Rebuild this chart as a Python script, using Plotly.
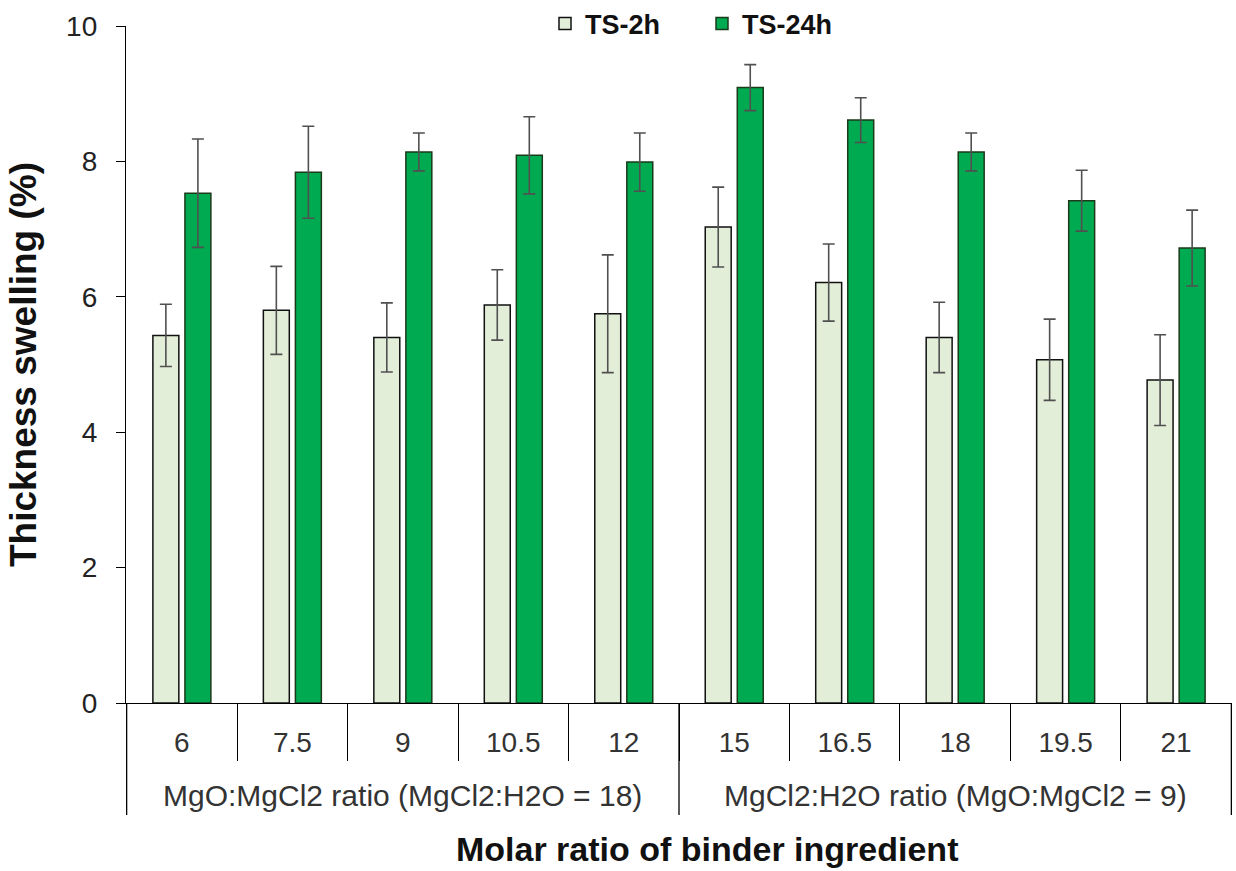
import plotly.graph_objects as go

group_labels = ["MgO:MgCl2 ratio (MgCl2:H2O = 18)", "MgCl2:H2O ratio (MgO:MgCl2 = 9)"]
group_sizes = [5, 5]
categories = ["6", "7.5", "9", "10.5", "12", "15", "16.5", "18", "19.5", "21"]
ts_2h = [5.43, 5.80, 5.40, 5.88, 5.75, 7.03, 6.21, 5.40, 5.07, 4.77]
ts_2h_err = [0.46, 0.65, 0.51, 0.52, 0.87, 0.59, 0.57, 0.52, 0.60, 0.67]
ts_24h = [7.53, 7.84, 8.14, 8.09, 7.99, 9.09, 8.61, 8.14, 7.42, 6.72]
ts_24h_err = [0.80, 0.68, 0.28, 0.57, 0.43, 0.34, 0.33, 0.28, 0.45, 0.56]

FONT = "Liberation Sans, Arial, sans-serif"
err_style = dict(type="data", color="#505050", thickness=1.6, width=6)

fig = go.Figure()
fig.add_trace(go.Bar(
    x=categories, y=ts_2h, name="TS-2h",
    marker=dict(color="#E3EED9", line=dict(color="#111111", width=1.5)),
    error_y=dict(array=ts_2h_err, **err_style),
))
fig.add_trace(go.Bar(
    x=categories, y=ts_24h, name="TS-24h",
    marker=dict(color="#00AA50", line=dict(color="#1A3A1A", width=1.5)),
    error_y=dict(array=ts_24h_err, **err_style),
))

# plot area pixel geometry (for paper-relative placements)
W, H, L, R, T, B = 1236, 871, 126, 4, 26, 168
ph = H - T - B
pw = W - L - R
def py(pix):
    return (H - B - pix) / ph
def px(pix):
    return (pix - L) / pw

# group dividers and group labels
start = 0
bounds = [-0.5]
for lab, n in zip(group_labels, group_sizes):
    mid = start + (n - 1) / 2
    fig.add_annotation(x=mid, xref="x", y=py(795), yref="paper", text=lab,
                       showarrow=False, yanchor="middle",
                       font=dict(size=30, family=FONT, color="#333333"))
    start += n
    bounds.append(start - 0.5)
for b in bounds:
    fig.add_shape(type="line", x0=b, x1=b, xref="x", y0=0, y1=py(815), yref="paper",
                  line=dict(color="black", width=1.3))

fig.add_annotation(x=px(707), xref="paper", y=py(849), yref="paper",
                   text="<b>Molar ratio of binder ingredient</b>", showarrow=False,
                   yanchor="middle", font=dict(size=34, family=FONT, color="#111111"))

fig.update_layout(
    width=W, height=H,
    margin=dict(l=L, r=R, t=T, b=B, autoexpand=False),
    paper_bgcolor="white", plot_bgcolor="white",
    barmode="group", bargap=0.42, bargroupgap=0.19,
    font=dict(family=FONT, color="#222222", size=20),
    showlegend=True,
    legend=dict(
        orientation="h", x=px(545), y=py(24), xanchor="left", yanchor="middle",
        font=dict(size=27, family=FONT, color="#111111", weight="bold"),
        bgcolor="rgba(0,0,0,0)", itemwidth=30, entrywidth=112, entrywidthmode="pixels",
    ),
    xaxis=dict(
        type="category",
        showline=True, linecolor="black", linewidth=1.3,
        ticks="outside", tickson="boundaries", ticklen=57, tickcolor="black", tickwidth=1.3,
        ticklabelstandoff=14,
        tickfont=dict(size=28, color="#333333"),
        showgrid=False,
    ),
    yaxis=dict(
        range=[0, 10], dtick=2,
        showline=True, linecolor="black", linewidth=1.3,
        ticks="outside", ticklen=9, tickcolor="black", tickwidth=1.3,
        ticklabelstandoff=13,
        showgrid=False, zeroline=False,
        tickfont=dict(size=28, color="#222222"),
        title=dict(text="<b>Thickness swelling (%)</b>", font=dict(size=37, color="#111111"), standoff=18),
    ),
)

fig.write_html("out.html")
